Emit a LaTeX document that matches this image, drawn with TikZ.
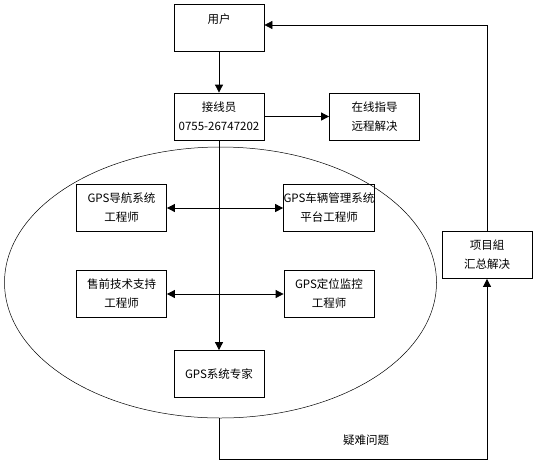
\documentclass[tikz,border=0pt]{standalone}
\usepackage{fontspec}
\setmainfont{Noto Sans CJK SC}
\usetikzlibrary{arrows.meta,shapes.geometric}

\begin{document}
\begin{tikzpicture}[x=1pt,y=-1pt,line width=0.8pt,
    box/.style={draw,minimum width=90pt,minimum height=47pt,inner sep=0pt,align=center,font=\fontsize{11.5}{19}\selectfont},
    tip/.style={-{Triangle[length=8pt,width=8pt]}},
    twotip/.style={{Triangle[length=8pt,width=8pt]}-{Triangle[length=8pt,width=8pt]}}]
      \useasboundingbox (0,0) rectangle (534,461);
      \node [draw,ellipse,line width=0.5pt,minimum width=432pt,minimum height=271pt] (team) at (220.5,282.5) {};
      \node [box] (user) at (219,28) {用户\\{}};
      \node [box] (operator) at (219,116.5) {接线员\\0755-26747202};
      \node [box] (online) at (374.5,116.5) {在线指导\\远程解决};
      \node [box] (nav) at (121.5,208) {GPS导航系统\\工程师};
      \node [box] (fleet) at (329,208) {GPS车辆管理系统\\平台工程师};
      \node [box] (presale) at (121.5,294) {售前技术支持\\工程师};
      \node [box] (locate) at (329,294) {GPS定位监控\\工程师};
      \node [box] (expert) at (219,374) {GPS系统专家};
      \node [box] (proj) at (487,255) {项目組\\汇总解决};
      \node [font=\fontsize{11.5}{14}\selectfont] (hard) at (366,440) {疑难问题};
      \draw [tip] (user) -- (operator);
      \draw [tip] (operator) -- (online);
      \draw [tip] (operator) -- (expert);
      \draw [twotip] (nav) -- (fleet);
      \draw [twotip] (presale) -- (locate);
      \draw [tip] (expert.south |- team.south) -- ++(0,41) -| (proj);
      \draw [tip] (proj) |- ([yshift=3pt]user.east);
    \end{tikzpicture}
\end{document}
